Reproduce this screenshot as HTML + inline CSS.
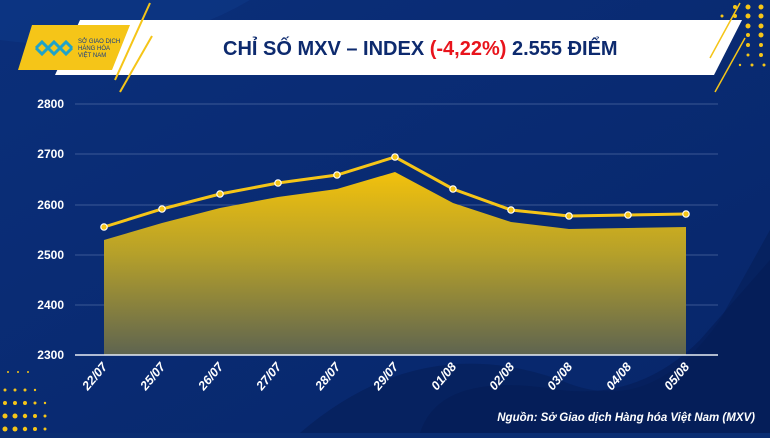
<!DOCTYPE html><html><head><meta charset="utf-8"><style>
body{margin:0;width:770px;height:433px;overflow:hidden;background:#0a2d72;font-family:"Liberation Sans",sans-serif}
</style></head><body>
<svg width="770" height="433" xmlns="http://www.w3.org/2000/svg">
<defs>
<linearGradient id="bg" x1="0" y1="0" x2="1" y2="1"><stop offset="0" stop-color="#0b2f7a"/><stop offset="1" stop-color="#07266a"/></linearGradient>
<linearGradient id="ar" x1="0" y1="0" x2="0" y2="1"><stop offset="0" stop-color="#f2c10c"/><stop offset="0.45" stop-color="#b5a02a"/><stop offset="1" stop-color="#5e6450"/></linearGradient>
</defs>
<rect width="770" height="433" fill="url(#bg)"/>
<path d="M0 40 Q150 60 250 0 L0 0Z" fill="#0e3a8a" opacity="0.5"/>
<path d="M300 433 Q420 330 560 380 Q650 420 720 320 L770 230 L770 433Z" fill="#06205c" opacity="0.8"/>
<path d="M420 433 Q440 370 560 390 Q640 400 700 340 L770 260 L770 433Z" fill="#051d55" opacity="0.6"/>
<g fill="#f5c518">
<circle cx="8" cy="372" r="1"/><circle cx="18" cy="372" r="1"/><circle cx="28" cy="372" r="1"/>
<circle cx="5" cy="390" r="1.5"/><circle cx="15" cy="390" r="1.5"/><circle cx="25" cy="390" r="1.5"/><circle cx="35" cy="390" r="1.2"/>
<circle cx="5" cy="403" r="2"/><circle cx="15" cy="403" r="2"/><circle cx="25" cy="403" r="2"/><circle cx="35" cy="403" r="1.5"/><circle cx="45" cy="403" r="1.2"/>
<circle cx="5" cy="416" r="2.5"/><circle cx="15" cy="416" r="2.5"/><circle cx="25" cy="416" r="2.2"/><circle cx="35" cy="416" r="2"/><circle cx="45" cy="416" r="1.5"/>
<circle cx="5" cy="429" r="2.5"/><circle cx="15" cy="429" r="2.5"/><circle cx="25" cy="429" r="2.2"/><circle cx="35" cy="429" r="2"/><circle cx="45" cy="429" r="1.5"/>
<circle cx="735" cy="7" r="2"/><circle cx="748" cy="7" r="2.5"/><circle cx="761" cy="7" r="2.5"/>
<circle cx="722" cy="16" r="1.5"/><circle cx="735" cy="16" r="2"/><circle cx="748" cy="16" r="2.5"/><circle cx="761" cy="16" r="2.5"/>
<circle cx="748" cy="26" r="2.5"/><circle cx="761" cy="26" r="2.5"/><circle cx="748" cy="35" r="2"/><circle cx="761" cy="35" r="2.5"/>
<circle cx="748" cy="45" r="2"/><circle cx="761" cy="45" r="2"/><circle cx="748" cy="55" r="1.5"/><circle cx="761" cy="55" r="2"/>
<circle cx="740" cy="65" r="1.2"/><circle cx="752" cy="65" r="1.5"/><circle cx="764" cy="65" r="1.5"/>
</g>
<polygon points="80,20 742,20 714,75 55,75" fill="#fff"/>
<polygon points="32,25 130,25 112,70 18,70" fill="#f5c518"/>
<line x1="115" y1="80" x2="150" y2="3" stroke="#f5c518" stroke-width="2"/>
<line x1="120" y1="92" x2="152" y2="36" stroke="#f5c518" stroke-width="2"/>
<line x1="710" y1="58" x2="740" y2="3" stroke="#f5c518" stroke-width="1.5"/>
<line x1="715" y1="92" x2="745" y2="38" stroke="#f5c518" stroke-width="1.5"/>
<path d="M36 48 l6 -6 l6 6 l6 -6 l6 6 l6 -6 l6 6 M36 48 l6 6 l6 -6 l6 6 l6 -6 l6 6 l6 -6" stroke="#1fa3c9" stroke-width="3" fill="none"/>
<text x="78" y="43" font-size="6" fill="#143c86">SỞ GIAO DỊCH</text>
<text x="78" y="50" font-size="6" fill="#143c86">HÀNG HÓA</text>
<text x="78" y="57" font-size="6" fill="#143c86">VIỆT NAM</text>
<text x="223" y="55" font-size="20" font-weight="bold" fill="#0d2a6e">CHỈ SỐ MXV – INDEX <tspan fill="#e8141c">(-4,22%)</tspan> 2.555 ĐIỂM</text>
<g stroke="#6f86b8" stroke-width="0.6">
<line x1="75" y1="104" x2="718" y2="104"/><line x1="75" y1="154" x2="718" y2="154"/><line x1="75" y1="205" x2="718" y2="205"/><line x1="75" y1="255" x2="718" y2="255"/><line x1="75" y1="305" x2="718" y2="305"/>
</g>
<g font-size="12" font-weight="bold" fill="#fff" text-anchor="end">
<text x="64" y="108">2800</text><text x="64" y="158">2700</text><text x="64" y="209">2600</text><text x="64" y="259">2500</text><text x="64" y="309">2400</text><text x="64" y="359">2300</text>
</g>
<polygon points="104,240 162,223 220,208 278,197 337,189 395,172 453,203 511,222 569,229 628,228 686,227 686,355 104,355" fill="url(#ar)"/>
<line x1="75" y1="355" x2="718" y2="355" stroke="#e8edf5" stroke-width="1.5"/>
<polyline points="104,227 162,209 220,194 278,183 337,175 395,157 453,189 511,210 569,216 628,215 686,214" fill="none" stroke="#f5c518" stroke-width="3"/>
<g fill="#f5c518" stroke="#fff" stroke-width="1.2">
<circle cx="104" cy="227" r="3.2"/><circle cx="162" cy="209" r="3.2"/><circle cx="220" cy="194" r="3.2"/><circle cx="278" cy="183" r="3.2"/><circle cx="337" cy="175" r="3.2"/><circle cx="395" cy="157" r="3.2"/><circle cx="453" cy="189" r="3.2"/><circle cx="511" cy="210" r="3.2"/><circle cx="569" cy="216" r="3.2"/><circle cx="628" cy="215" r="3.2"/><circle cx="686" cy="214" r="3.2"/>
</g>
<g font-size="12.5" font-style="italic" font-weight="bold" fill="#fff" text-anchor="end">
<text transform="translate(108,367) rotate(-50)">22/07</text>
<text transform="translate(166,367) rotate(-50)">25/07</text>
<text transform="translate(224,367) rotate(-50)">26/07</text>
<text transform="translate(282,367) rotate(-50)">27/07</text>
<text transform="translate(341,367) rotate(-50)">28/07</text>
<text transform="translate(399,367) rotate(-50)">29/07</text>
<text transform="translate(457,367) rotate(-50)">01/08</text>
<text transform="translate(515,367) rotate(-50)">02/08</text>
<text transform="translate(573,367) rotate(-50)">03/08</text>
<text transform="translate(632,367) rotate(-50)">04/08</text>
<text transform="translate(690,367) rotate(-50)">05/08</text>
</g>
<text x="755" y="421" font-size="11.5" font-style="italic" font-weight="bold" fill="#fff" text-anchor="end">Nguồn: Sở Giao dịch Hàng hóa Việt Nam (MXV)</text>
</svg>
</body></html>
